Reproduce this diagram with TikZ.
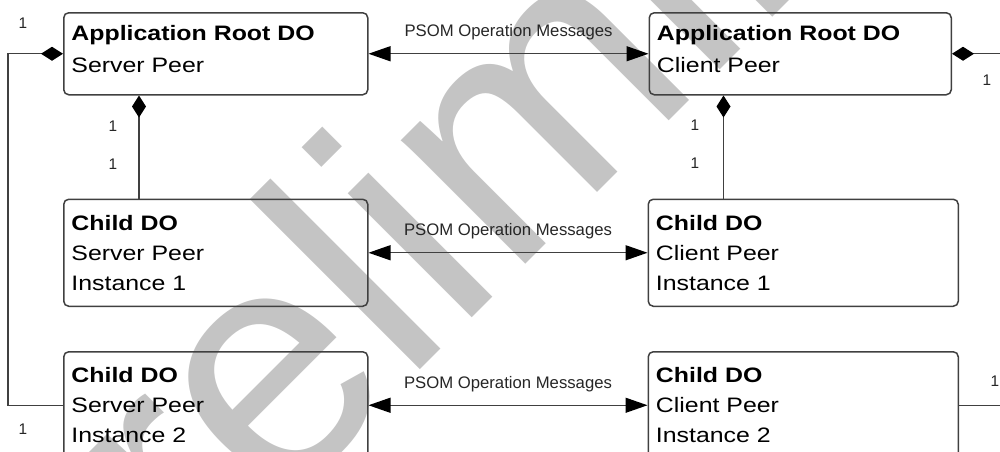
\documentclass[tikz,border=0pt]{standalone}
\usepackage{fontspec}
\setmainfont{Liberation Sans}
\newfontfamily\boxfont{Liberation Sans}[FakeStretch=1.19]
\usetikzlibrary{positioning}
\usetikzlibrary{arrows.meta}
\definecolor{linegray}{RGB}{64,64,64}
\definecolor{markgray}{RGB}{196,196,196}

\begin{document}
\begin{tikzpicture}[x=0.5pt,y=-0.5pt,line width=0.75pt,
		node distance=140pt]
		\tikzstyle{dobox}=[draw=linegray,rounded corners=2.5pt,align=left,
		inner xsep=3.85pt,inner ysep=0pt,text=black,anchor=north west]
		\tikzstyle{rootbox}=[dobox,minimum height=41pt,text depth=20.6pt,
		font=\boxfont\fontsize{10.45pt}{15.85pt}\selectfont]
		\tikzstyle{childbox}=[dobox,minimum height=53.5pt,
		font=\boxfont\fontsize{10.45pt}{15pt}\selectfont]
		\tikzstyle{msg}=[draw=linegray,line width=0.65pt,
		{Triangle[length=11pt,width=7.5pt,color=black]}-{Triangle[length=11pt,width=7.5pt,color=black]}]
		\tikzstyle{msgtext}=[font=\fontsize{8.35pt}{10pt}\selectfont,text=black!85,
		anchor=base,yshift=8.4pt,inner sep=0pt]
		\tikzstyle{comp}=[draw=linegray,line width=0.65pt,
		{Diamond[length=11pt,width=7pt,color=black]}-]
		\tikzstyle{mult}=[font=\fontsize{7.7pt}{9pt}\selectfont,text=black!85,inner sep=0pt]
		\tikzstyle{wmark}=[anchor=base west,rotate=45,inner sep=0pt,text=markgray,
		font=\fontsize{166pt}{166pt}\selectfont]
		
		\useasboundingbox (0,0) rectangle (1000,451);
		
		% watermark behind the diagram
		\node[wmark] (wm) at (39,751) {Preliminary};
		
		\node[rootbox,text width=144.3pt]  (srvroot)  at (63,12)  {\textbf{Application Root DO}\\Server Peer};
		\node[rootbox,text width=143.3pt]  (cliroot)  [right=140pt of srvroot]   {\textbf{Application Root DO}\\Client Peer};
		\node[childbox,text width=144.3pt] (srvchild1) [below=51.5pt of srvroot]  {\textbf{Child DO}\\Server Peer\\Instance 1};
		\node[childbox,text width=144.3pt] (srvchild2) [below=22pt of srvchild1]  {\textbf{Child DO}\\Server Peer\\Instance 2};
		\node[childbox,text width=147.3pt] (clichild1) [right=139.5pt of srvchild1] {\textbf{Child DO}\\Client Peer\\Instance 1};
		\node[childbox,text width=147.3pt] (clichild2) [right=139.5pt of srvchild2] {\textbf{Child DO}\\Client Peer\\Instance 2};
		
		\path (srvroot)   edge[msg]  node[msgtext] {PSOM Operation Messages} (cliroot)
		(srvchild1) edge[msg]  node[msgtext] {PSOM Operation Messages} (clichild1)
		(srvchild2) edge[msg]  node[msgtext] {PSOM Operation Messages} (clichild2)
		;
		
		% composition links
		\draw[comp] ([xshift=38pt]srvroot.south west) -- ([xshift=38pt]srvchild1.north west);
		\draw[comp] ([xshift=37.5pt]cliroot.south west) -- ([xshift=38pt]clichild1.north west);
		\draw[comp] (srvroot.west) -- ++(-55,0) |- (srvchild2.west);
		\draw[comp] (cliroot.east) -- ++(60,0) |- (clichild2.east);
		
		% multiplicities
		\node[mult] (m1) at (23,23)  {1};
		\node[mult] (m2) at (113,126) {1};
		\node[mult] (m3) at (113,164) {1};
		\node[mult] (m4) at (695,125) {1};
		\node[mult] (m5) at (695,163) {1};
		\node[mult] (m6) at (987,80)  {1};
		\node[mult] (m7) at (23,429) {1};
		\node[mult] (m8) at (995,381) {1};
\end{tikzpicture}
\end{document}
